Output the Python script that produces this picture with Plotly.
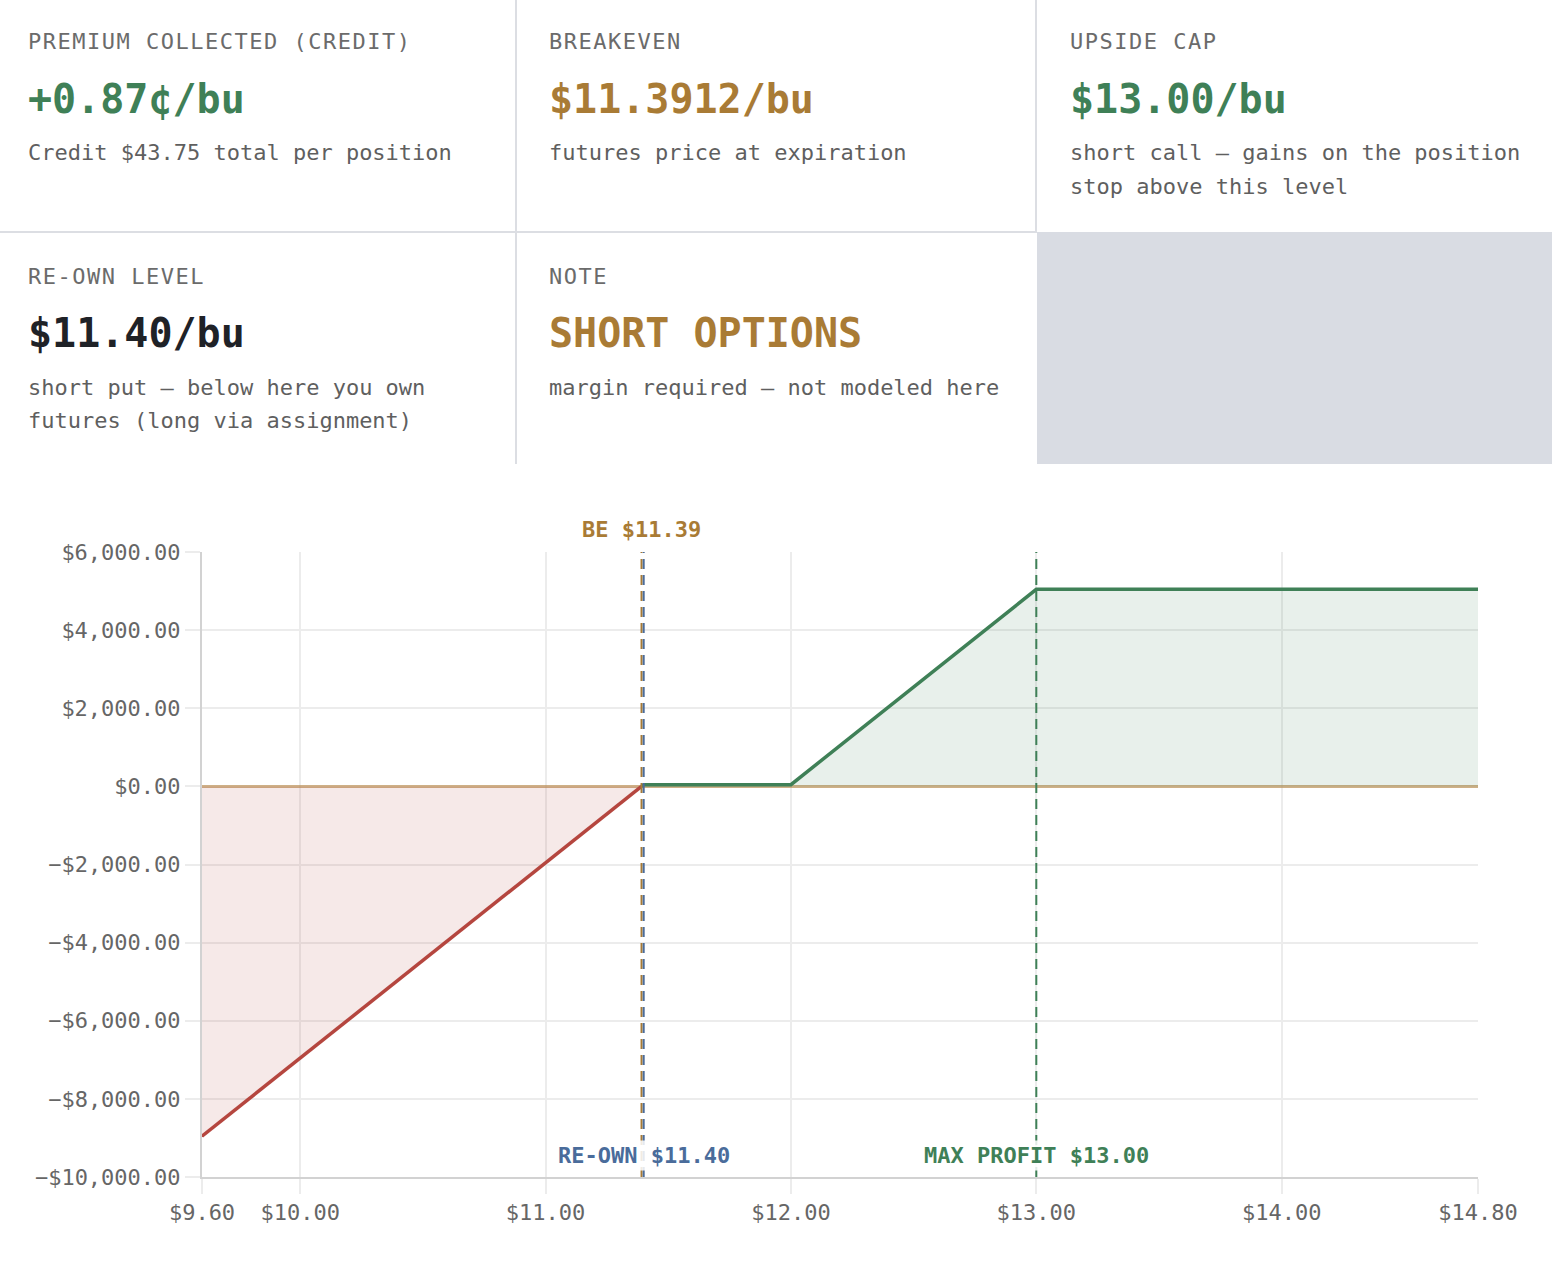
import plotly.graph_objects as go

# P&L at expiration for the short option position (per position, $)
price_pts = [9.60, 11.3912, 11.40, 12.00, 13.00, 14.80]
pnl_pts = [-8956.25, 0.0, 43.75, 43.75, 5043.75, 5043.75]

breakeven = 11.3912
reown = 11.40
max_profit_px = 13.00

x_ticks = [9.60, 10.00, 11.00, 12.00, 13.00, 14.00, 14.80]
x_tick_text = ["$9.60", "$10.00", "$11.00", "$12.00", "$13.00", "$14.00", "$14.80"]
y_ticks = [6000, 4000, 2000, 0, -2000, -4000, -6000, -8000, -10000]
y_tick_text = ["$6,000.00", "$4,000.00", "$2,000.00", "$0.00", "−$2,000.00",
               "−$4,000.00", "−$6,000.00", "−$8,000.00", "−$10,000.00"]

# summary cards
card_labels = ["PREMIUM COLLECTED (CREDIT)", "BREAKEVEN", "UPSIDE CAP", "RE-OWN LEVEL", "NOTE"]
card_values = ["+0.87¢/bu", "$11.3912/bu", "$13.00/bu", "$11.40/bu", "SHORT OPTIONS"]
card_notes = [
    ["Credit $43.75 total per position"],
    ["futures price at expiration"],
    ["short call — gains on the position", "stop above this level"],
    ["short put — below here you own", "futures (long via assignment)"],
    ["margin required — not modeled here"],
]

GREEN = "#3f8057"
RED = "#b5463f"
TAN = "#a97b35"
BLUE = "#4a6c9b"
DARK = "#1f2227"
card_colors = [GREEN, TAN, GREEN, DARK, TAN]

FONT = "DejaVu Sans Mono"
W, H = 1552, 1263
L, R, T, B = 202, 74, 552, 86
PW, PH = W - L - R, H - T - B


def px(x):
    return (x - L) / PW


def py(y):
    return (H - B - y) / PH


fig = go.Figure()

loss_x = price_pts[:2]
loss_y = pnl_pts[:2]
gain_x = price_pts[1:]
gain_y = pnl_pts[1:]

fig.add_trace(go.Scatter(
    x=loss_x, y=loss_y, mode='lines', fill='tozeroy',
    fillcolor='rgba(181,70,63,0.12)', line=dict(color=RED, width=3.5),
    hoverinfo='skip', showlegend=False
))
fig.add_trace(go.Scatter(
    x=gain_x, y=gain_y, mode='lines', fill='tozeroy',
    fillcolor='rgba(63,128,87,0.12)', line=dict(color=GREEN, width=3.5),
    hoverinfo='skip', showlegend=False
))

shapes = []
# vertical reference lines
for xv, col in [(breakeven, TAN), (reown, BLUE), (max_profit_px, GREEN)]:
    shapes.append(dict(type='line', xref='x', yref='paper', x0=xv, x1=xv, y0=0, y1=1,
                       line=dict(color=col, width=2, dash='10px,6px')))

# card grid lines and empty cell
line_col = "#dcdee3"
shapes.append(dict(type='rect', xref='paper', yref='paper', x0=px(1037), x1=px(W),
                   y0=py(464), y1=py(232), fillcolor="#d9dce3", line=dict(width=0), layer='below'))
shapes.append(dict(type='line', xref='paper', yref='paper', x0=px(0), x1=px(1037),
                   y0=py(232), y1=py(232), line=dict(color=line_col, width=2)))
shapes.append(dict(type='line', xref='paper', yref='paper', x0=px(516), x1=px(516),
                   y0=py(0), y1=py(464), line=dict(color=line_col, width=2)))
shapes.append(dict(type='line', xref='paper', yref='paper', x0=px(1036), x1=px(1036),
                   y0=py(0), y1=py(232), line=dict(color=line_col, width=2)))

annotations = []
col_x = [26, 547, 1068]
for i, lab in enumerate(card_labels):
    cx = col_x[i % 3]
    cy = 42 + 234 * (i // 3)
    annotations.append(dict(
        xref='paper', yref='paper', x=px(cx), y=py(cy), xanchor='left', yanchor='middle',
        text=f'<span style="letter-spacing:1.5px">{lab}</span>', showarrow=False,
        font=dict(family=FONT, size=22, color="#6b6b6b")
    ))
    annotations.append(dict(
        xref='paper', yref='paper', x=px(cx), y=py(cy + 57), xanchor='left', yanchor='middle',
        text=f'<b>{card_values[i]}</b>', showarrow=False,
        font=dict(family=FONT, size=40, color=card_colors[i])
    ))
    for j, note in enumerate(card_notes[i]):
        annotations.append(dict(
            xref='paper', yref='paper', x=px(cx), y=py(cy + 111 + 33 * j),
            xanchor='left', yanchor='middle', text=note, showarrow=False,
            font=dict(family=FONT, size=22, color="#5f5f5f")
        ))

# chart labels
annotations.append(dict(
    xref='x', yref='paper', x=breakeven, y=py(529), xanchor='center', yanchor='middle',
    text=f'<b>BE ${breakeven:.2f}</b>', showarrow=False,
    font=dict(family=FONT, size=22, color=TAN)
))
annotations.append(dict(
    xref='x', yref='paper', x=reown, y=py(1155), xanchor='center', yanchor='middle',
    text=f'<b>RE-OWN ${reown:.2f}</b>', showarrow=False, bgcolor='rgba(255,255,255,0.85)',
    borderpad=2, font=dict(family=FONT, size=22, color=BLUE)
))
annotations.append(dict(
    xref='x', yref='paper', x=max_profit_px, y=py(1155), xanchor='center', yanchor='middle',
    text=f'<b>MAX PROFIT ${max_profit_px:.2f}</b>', showarrow=False, bgcolor='rgba(255,255,255,0.85)',
    borderpad=2, font=dict(family=FONT, size=22, color=GREEN)
))

fig.update_layout(
    width=W, height=H,
    margin=dict(l=L, r=R, t=T, b=B, pad=0),
    paper_bgcolor='white', plot_bgcolor='white',
    font=dict(family=FONT, size=22, color="#666666"),
    shapes=shapes, annotations=annotations,
    showlegend=False,
    xaxis=dict(
        range=[x_ticks[0], x_ticks[-1]], tickmode='array', tickvals=x_ticks, ticktext=x_tick_text,
        showgrid=True, gridcolor="#ececec", gridwidth=2,
        showline=True, linecolor="#d2d2d2", linewidth=2,
        ticks='outside', ticklen=15, tickwidth=2, tickcolor="#ececec",
        zeroline=False, tickfont=dict(family=FONT, size=22, color="#666666")
    ),
    yaxis=dict(
        range=[y_ticks[-1], y_ticks[0]], tickmode='array', tickvals=y_ticks, ticktext=y_tick_text,
        showgrid=True, gridcolor="#ececec", gridwidth=2,
        showline=True, linecolor="#d2d2d2", linewidth=2,
        ticks='outside', ticklen=15, tickwidth=2, tickcolor="#ececec",
        zeroline=True, zerolinecolor="rgba(190,150,95,0.75)", zerolinewidth=3,
        tickfont=dict(family=FONT, size=22, color="#666666")
    ),
)

fig.write_html("out.html", config={'displayModeBar': False},
               post_script="document.body.style.margin='0';")
